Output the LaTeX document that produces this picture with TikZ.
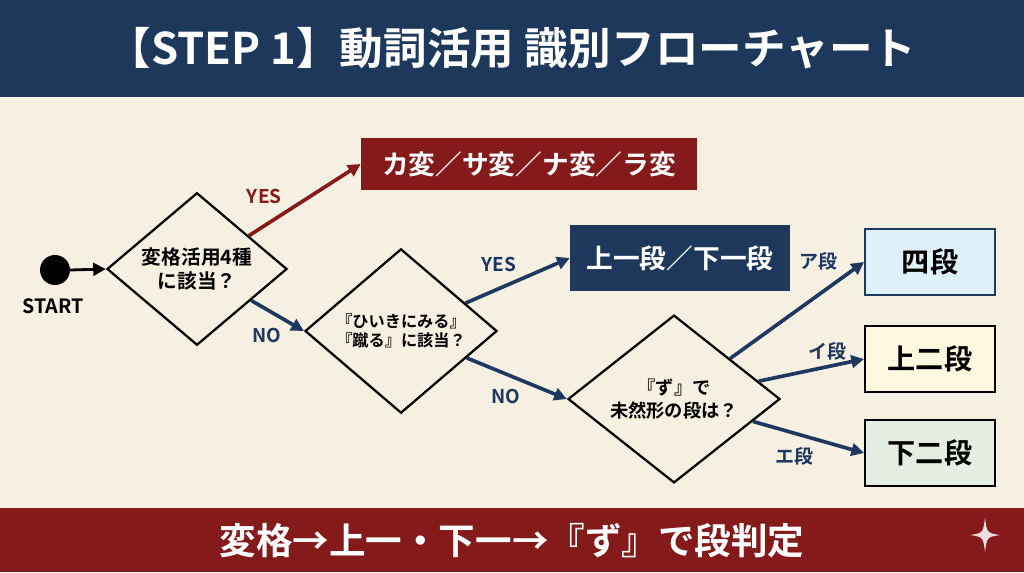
\documentclass[tikz,border=0pt]{standalone}
\usepackage{fontspec}
\setmainfont{Noto Sans CJK JP}[BoldFont={Noto Sans CJK JP Bold}]
\usetikzlibrary{arrows.meta,positioning,shapes.geometric}
\definecolor{hdnavy}{RGB}{30,56,92}
\definecolor{hdred}{RGB}{133,26,26}
\definecolor{bgcream}{RGB}{246,240,226}
\definecolor{fnavy}{RGB}{30,56,96}
\definecolor{boxblue}{RGB}{222,240,248}
\definecolor{boxyellow}{RGB}{253,248,222}
\definecolor{boxgreen}{RGB}{230,238,228}

\begin{document}
\begin{tikzpicture}[x=0.025cm, y=-0.025cm,
  decision/.style={diamond, draw=black, line width=1.6pt, fill=bgcream,
               font=\bfseries, align=center, inner sep=0pt},
  resbox/.style={draw=black, line width=1.4pt, minimum width=3.25cm,
               minimum height=1.65cm, font=\fontsize{20}{24}\selectfont\bfseries},
  arr/.style={-{Triangle[length=9pt,width=9pt]}, line width=2.6pt, fnavy},
  lbl/.style={font=\fontsize{13.5}{16}\selectfont\bfseries, text=fnavy}]
% background and bands
\fill[bgcream] (0,0) rectangle (1024,572);
\fill[hdnavy] (0,0) rectangle (1024,97);
\fill[hdred] (0,508) rectangle (1024,572);
\node[text=white, font=\fontsize{31}{36}\selectfont\bfseries] (title) at (512,48)
  {【STEP 1】動詞活用 識別フローチャート};
\node[text=white, font=\fontsize{26}{30}\selectfont\bfseries] (summary) at (512,541)
  {変格→上一・下一→『ず』で段判定};
% start
\fill (55,270) circle (15) coordinate (st);
\node[font=\fontsize{14}{16}\selectfont\bfseries] (stlbl) at (53,306) {START};
% decisions
\node[decision, minimum width=4.5cm, minimum height=3.35cm,
      font=\fontsize{14}{17}\selectfont\bfseries] (d1) at (197,269) {変格活用4種\\に該当？};
\node[decision, minimum width=4.8cm, minimum height=3.65cm,
      font=\fontsize{11.5}{14}\selectfont\bfseries] (d2) at (401,331) {『ひいきにみる』\\『蹴る』に該当？};
\node[decision, minimum width=5.3cm, minimum height=3.7cm,
      font=\fontsize{13}{16}\selectfont\bfseries] (d3) at (674,399) {『ず』で\\未然形の段は？};
% result boxes
\node[fill=hdred, minimum width=8.4cm, minimum height=1.3cm, text=white,
      font=\fontsize{19}{22}\selectfont\bfseries] (hen) at (529,164) {カ変／サ変／ナ変／ラ変};
\node[fill=hdnavy, minimum width=5.5cm, minimum height=1.65cm, text=white,
      font=\fontsize{19}{22}\selectfont\bfseries] (ichi) at (680,258) {上一段／下一段};
\node[resbox, fill=boxblue, draw=fnavy] (yo) at (930,262) {四段};
\node[resbox, fill=boxyellow] (kami) at (930,359) {上二段};
\node[resbox, fill=boxgreen] (shimo) at (930,453) {下二段};
% connectors
\draw[-{Triangle[length=9pt,width=9pt]}, line width=2pt] (70,270) -- (d1.west);
\draw[arr, hdred] (d1) -- node[above left, pos=0.35, lbl, text=hdred] {YES} (hen.west);
\draw[arr] (d1) -- node[below left, pos=0.7, lbl] {NO} (d2.west);
\draw[arr] (d2) -- node[above left, pos=0.55, lbl] {YES} (ichi.west);
\draw[arr] (d2) -- node[below left, pos=0.6, lbl] {NO} (d3.west);
\draw[arr] (d3) -- node[above left, pos=0.85, lbl] {ア段} (yo.west);
\draw[arr] (d3) -- node[above, pos=0.65, lbl] {イ段} (kami.west);
\draw[arr] (d3) -- node[below left, pos=0.6, lbl] {エ段} (shimo.west);
% sparkle
\fill[white!85!hdred] (985,518) .. controls (987,533) .. (1000,535)
  .. controls (987,537) .. (985,552) .. controls (983,537) .. (970,535)
  .. controls (983,533) .. (985,518) -- cycle;
\end{tikzpicture}
\end{document}
